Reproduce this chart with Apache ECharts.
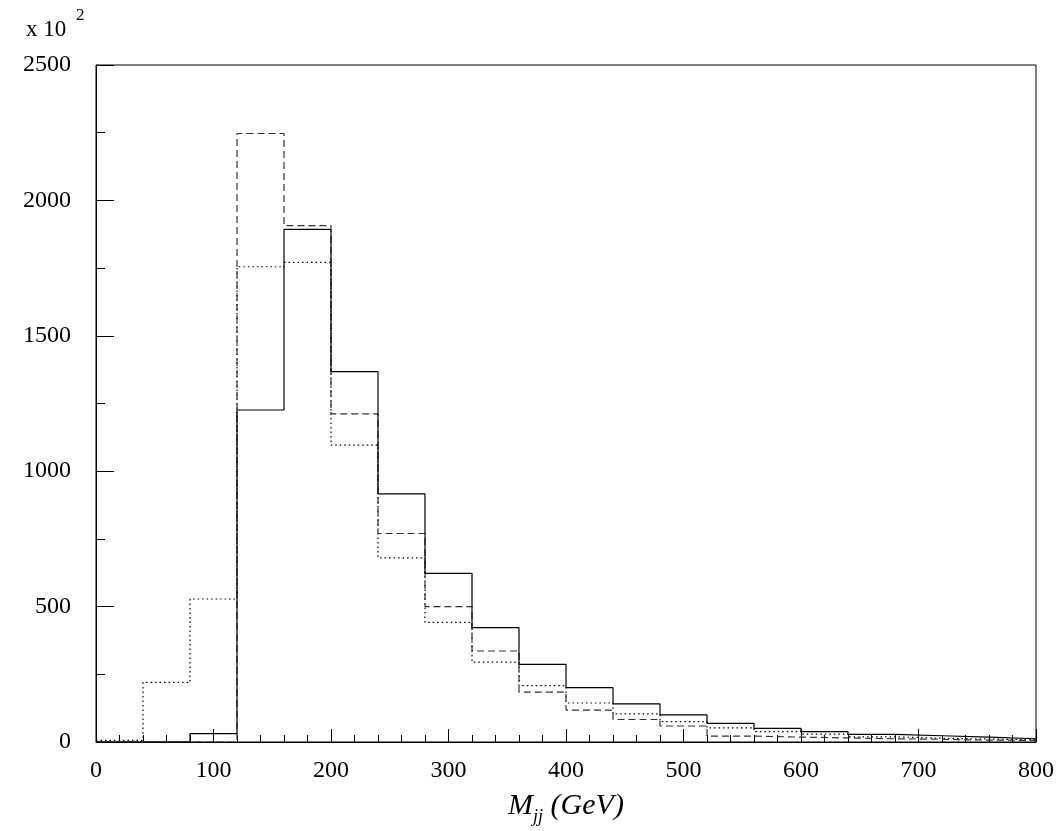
<!DOCTYPE html>
<html>
<head>
<meta charset="utf-8">
<script src="https://cdn.jsdelivr.net/npm/echarts@6/dist/echarts.min.js"></script>
<style>html,body{margin:0;padding:0;background:#fff}#c{width:1064px;height:831px}</style>
</head>
<body>
<div id="c"></div>
<script>
// bin edges (GeV) and bin contents (x 10^2)
var binEdges = [0,40,80,120,160,200,240,280,320,360,400,440,480,520,560,600,640,680,720,760,800];
var solidValues  = [0,0,31,1226,1893,1368,916,623,422,287,201,141,100,69,50,38,28,23,18,12];
var dashedValues = [0,0,0,2247,1907,1212,770,500,336,184,118,83,59,22,18,15,12,10,7,6];
var dottedValues = [6,220,528,1755,1771,1096,680,442,295,208,144,104,75,52,38,29,19,14,11,8];
var xTicks = [0,100,200,300,400,500,600,700,800];
var yTicks = [0,500,1000,1500,2000,2500];

function steps(vals){
  var pts = vals.map(function(v,i){ return [binEdges[i], v]; });
  pts.push([binEdges[binEdges.length-1], vals[vals.length-1]]);
  return pts;
}
function plain(v){ return String(v); }

var serif = 'Liberation Serif';
var chart = echarts.init(document.getElementById('c'), null, {renderer:'canvas'});
chart.setOption({
  backgroundColor:'#fff',
  animation:false,
  title:{
    left:21, top:2,
    text:'{a|x 10 }{b|2}',
    textStyle:{
      fontWeight:'normal',
      rich:{
        a:{fontFamily:serif, fontWeight:'normal', fontSize:23, color:'#000', lineHeight:34, verticalAlign:'bottom'},
        b:{fontFamily:serif, fontWeight:'normal', fontSize:17, color:'#000', lineHeight:34, verticalAlign:'top', padding:[0,0,0,4]}
      }
    }
  },
  grid:{left:96, right:28, top:65, bottom:77, show:true, borderColor:'#000', borderWidth:1, containLabel:false},
  xAxis:{
    type:'value', min:xTicks[0], max:xTicks[xTicks.length-1], interval:xTicks[1]-xTicks[0],
    axisLine:{lineStyle:{color:'#000', width:1}},
    axisTick:{inside:true, length:13, lineStyle:{color:'#000'}},
    minorTick:{show:true, splitNumber:5, length:7, lineStyle:{color:'#000'}},
    splitLine:{show:false},
    axisLabel:{fontFamily:serif, fontSize:24, color:'#000', margin:17, formatter:plain},
    name:'{m|M}{s|jj}{m| (GeV)}',
    nameLocation:'middle', nameGap:44,
    nameTextStyle:{
      rich:{
        m:{fontFamily:serif, fontStyle:'italic', fontSize:30, color:'#000', lineHeight:40, verticalAlign:'middle'},
        s:{fontFamily:serif, fontStyle:'italic', fontSize:18, color:'#000', lineHeight:40, verticalAlign:'bottom'}
      }
    }
  },
  yAxis:{
    type:'value', min:yTicks[0], max:yTicks[yTicks.length-1], interval:yTicks[1]-yTicks[0],
    axisLine:{show:true, lineStyle:{color:'#000', width:1}},
    axisTick:{show:true, inside:true, length:18, lineStyle:{color:'#000'}},
    minorTick:{show:true, splitNumber:2, length:9, lineStyle:{color:'#000'}},
    splitLine:{show:false},
    axisLabel:{fontFamily:serif, fontSize:24, color:'#000', margin:25, formatter:plain}
  },
  series:[
    {type:'line', step:'end', symbol:'none', data:steps(dottedValues), z:2,
     lineStyle:{color:'#000', width:1.2, type:[1.5,3]}},
    {type:'line', step:'end', symbol:'none', data:steps(dashedValues), z:3,
     lineStyle:{color:'#333', width:1.2, type:[7,4]}},
    {type:'line', step:'end', symbol:'none', data:steps(solidValues), z:4,
     lineStyle:{color:'#000', width:1.2, type:'solid'}}
  ]
});
</script>
</body>
</html>
